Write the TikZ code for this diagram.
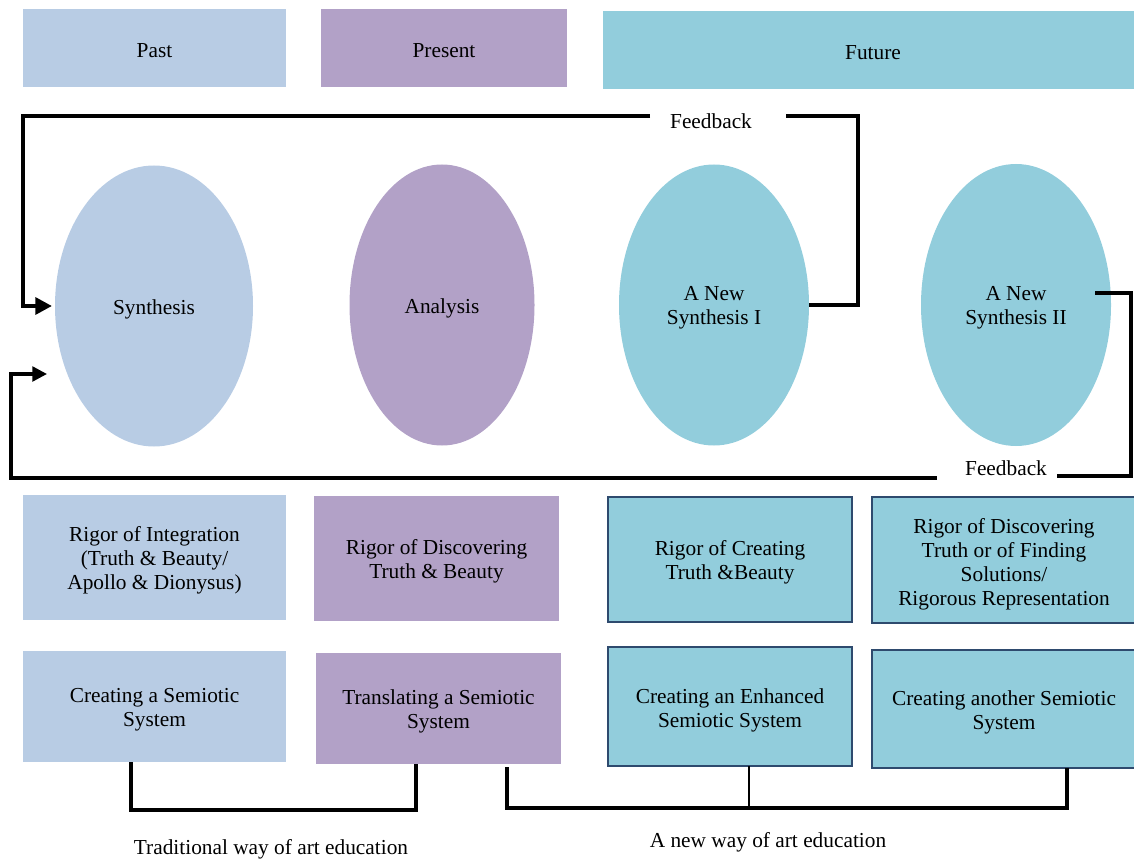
\documentclass[tikz,border=0pt]{standalone}
\usepackage{fontspec}
\setmainfont{Liberation Serif}
\usetikzlibrary{shapes.geometric,fit,arrows.meta}
\definecolor{pastc}{HTML}{B8CCE4}
\definecolor{presc}{HTML}{B2A1C7}
\definecolor{futc}{HTML}{92CDDC}
\definecolor{edgec}{HTML}{2E4A6E}
\begin{document}
\begin{tikzpicture}[x=0.75pt,y=-0.75pt,
  every node/.style={font=\fontsize{16}{18}\selectfont, align=center, text=black},
  txt/.style={yshift=-2.25pt},
  blk/.style={fit={#1}, inner sep=0pt},
  pastbox/.style={rectangle, fill=pastc, draw=none},
  presbox/.style={rectangle, fill=presc, draw=none},
  futbox/.style={rectangle, fill=futc, draw=none},
  futedge/.style={rectangle, fill=futc, draw=edgec, line width=1.6pt},
  oval/.style={ellipse, inner sep=0pt, minimum width=#1},
  thickloop/.style={line width=3.5pt, line join=miter},
  thinloop/.style={line width=2.5pt, line join=miter},
  brk/.style={line width=2.3pt, line join=miter},
  bigtip/.style={-{Triangle[length=12.5pt,width=12.5pt]}},
  smalltip/.style={-{Triangle[length=11pt,width=11pt]}},
  lbl/.style={inner sep=0pt}
]
\useasboundingbox (0,0) rectangle (1134,859);

% top headers
\node[pastbox, blk={(23,9) (286,87)}] (past) {};
\node[txt] (pastt) at (past.center) {Past};
\node[presbox, blk={(321,9) (567,87)}] (pres) {};
\node[txt] (prest) at (pres.center) {Present};
\node[futbox, blk={(603,11) (1134,89)}] (fut) {};
\node[txt] (futt) at (873,50) {Future};

% ellipses
\node[oval=148.5pt, minimum height=210.75pt, fill=pastc] (syn) at (154,306) {};
\node[txt] (synt) at (syn.center) {Synthesis};
\node[oval=138.75pt, minimum height=210.75pt, fill=presc] (ana) at (442,305) {};
\node[txt] (anat) at (ana.center) {Analysis};
\node[oval=142.5pt, minimum height=210.75pt, fill=futc] (ns1) at (714,305) {};
\node[txt] (ns1t) at (ns1.center) {A New\\Synthesis I};
\node[oval=142.5pt, minimum height=211.5pt, fill=futc] (ns2) at (1016,305) {};
\node[txt] (ns2t) at (ns2.center) {A New\\Synthesis II};

% feedback labels
\node[lbl] (fb1) at (711,121) {Feedback};
\node[lbl] (fb2) at (1006,468) {Feedback};

% top feedback loop
\coordinate (t1) at (858,116);
\coordinate (t2) at (786,116);
\coordinate (t3) at (650,116);
\coordinate (t4) at (23,116);
\coordinate (t5) at (52,306);
\draw[thickloop] (ns1.east) -| (t1) -- (t2);
\draw[thickloop, bigtip] (t3) -- (t4) |- (t5);

% bottom feedback loop
\coordinate (b0) at (1095,293);
\coordinate (b1) at (1131,476);
\coordinate (b2) at (1057,476);
\coordinate (b3) at (937,478);
\coordinate (b4) at (11,478);
\coordinate (b5) at (47,374);
\draw[thinloop] (b0) -| (b1) -- (b2);
\draw[thinloop, smalltip] (b3) -- (b4) |- (b5);

% row 1 boxes
\node[pastbox, blk={(23,495) (286,620)}] (r1a) {};
\node[txt] (r1at) at (r1a.center) {Rigor of Integration\\(Truth \& Beauty/\\Apollo \& Dionysus)};
\node[presbox, blk={(314,496) (559,621)}] (r1b) {};
\node[txt] (r1bt) at (r1b.center) {Rigor of Discovering\\Truth \& Beauty};
\node[futedge, blk={(608,497) (852,622)}] (r1c) {};
\node[txt] (r1ct) at (r1c.center) {Rigor of Creating\\Truth \&Beauty};
\node[futedge, blk={(872,497) (1140,623)}] (r1d) {};
\node[txt] (r1dt) at (1004,561) {Rigor of Discovering\\Truth or of Finding\\Solutions/\\Rigorous Representation};

% row 2 boxes
\node[pastbox, blk={(23,651) (286,762)}] (r2a) {};
\node[txt] (r2at) at (r2a.center) {Creating a Semiotic\\System};
\node[presbox, blk={(316,653) (561,764)}] (r2b) {};
\node[txt] (r2bt) at (r2b.center) {Translating a Semiotic\\System};
\node[futedge, blk={(608,647) (852,766)}] (r2c) {};
\node[txt] (r2ct) at (730,707) {Creating an Enhanced\\Semiotic System};
\node[futedge, blk={(872,650) (1140,768)}] (r2d) {};
\node[txt] (r2dt) at (1004,709) {Creating another Semiotic\\System};

% brackets
\coordinate (k1) at (131,762);
\coordinate (k2) at (416,764);
\draw[brk] (k1) -- (131,810) -- (416,810) -- (k2);
\coordinate (k3) at (507,767);
\coordinate (k4) at (1067,768);
\coordinate (k5) at (749,766);
\draw[brk] (k3) -- (507,808) -- (1067,808) -- (k4);
\draw[line width=1.6pt] (k5) -- (749,808);

% captions
\node[lbl] (cap1) at (271,849) {Traditional way of art education};
\node[lbl] (cap2) at (768,842) {A new way of art education};
\end{tikzpicture}
\end{document}
